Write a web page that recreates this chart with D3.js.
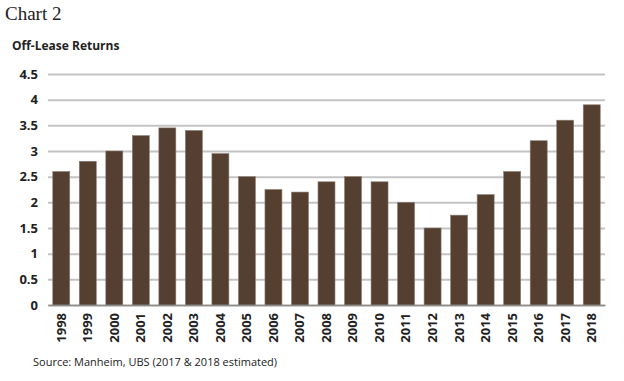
<!DOCTYPE html>
<html>
<head>
<meta charset="utf-8">
<script src="https://cdn.jsdelivr.net/npm/d3@7"></script>
<style>
  body { margin: 0; background: #fff; }
</style>
</head>
<body>
<div id="chart"></div>
<script>
const years = ['1998', '1999', '2000', '2001', '2002', '2003', '2004', '2005', '2006', '2007',
  '2008', '2009', '2010', '2011', '2012', '2013', '2014', '2015', '2016', '2017', '2018'];
const returns = [2.6, 2.8, 3.0, 3.3, 3.45, 3.4, 2.95, 2.5, 2.25, 2.2,
  2.4, 2.5, 2.4, 2.0, 1.5, 1.75, 2.15, 2.6, 3.2, 3.6, 3.9];
const yTicks = [0, 0.5, 1, 1.5, 2, 2.5, 3, 3.5, 4, 4.5];

const data = years.map((y, i) => ({ year: y, value: returns[i] }));

const width = 624;
const height = 381;
const margin = { top: 74, bottom: 76, left: 48, right: 19 };

const svg = d3.select('#chart')
  .append('svg')
  .attr('width', width)
  .attr('height', height)
  .attr('viewBox', [0, 0, width, height]);

const x = d3.scaleBand()
  .domain(years)
  .range([margin.left, width - margin.right])
  .paddingInner(0.36)
  .paddingOuter(0.18);

const y = d3.scaleLinear()
  .domain([0, 4.5])
  .range([height - margin.bottom, margin.top]);

// titles
svg.append('text')
  .attr('x', 5)
  .attr('y', 20)
  .attr('font-family', 'Liberation Serif, serif')
  .attr('font-size', 19)
  .attr('fill', '#222')
  .text('Chart 2');

svg.append('text')
  .attr('x', 12)
  .attr('y', 50)
  .attr('font-family', 'Open Sans, sans-serif')
  .attr('font-weight', 'bold')
  .attr('font-size', 12)
  .attr('fill', '#222')
  .text('Off-Lease Returns');

// gridlines + y labels
const yAxis = svg.append('g')
  .attr('transform', `translate(${margin.left}, 0)`)
  .call(d3.axisLeft(y)
    .tickValues(yTicks)
    .tickFormat(d => d)
    .tickSize(-(width - margin.left - margin.right))
    .tickPadding(10));
yAxis.select('.domain').remove();
yAxis.selectAll('.tick line')
  .attr('stroke', '#c4c4c4')
  .attr('stroke-width', 2);
yAxis.selectAll('.tick text')
  .attr('font-family', 'Open Sans, sans-serif')
  .attr('font-weight', 'bold')
  .attr('font-size', 13)
  .attr('fill', '#222');

// bars
svg.append('g')
  .selectAll('rect')
  .data(data)
  .join('rect')
  .attr('x', d => x(d.year))
  .attr('y', d => y(d.value))
  .attr('width', x.bandwidth())
  .attr('height', d => y(0) - y(d.value))
  .attr('fill', '#543f30')
  .attr('stroke', '#8a7d72')
  .attr('stroke-width', 0.6);

// x axis
const xAxis = svg.append('g')
  .attr('transform', `translate(0, ${y(0)})`)
  .call(d3.axisBottom(x).tickSize(0).tickSizeOuter(0));
xAxis.select('.domain')
  .attr('stroke', '#8c8c8c')
  .attr('stroke-width', 1.5);
xAxis.selectAll('text')
  .attr('font-family', 'Open Sans, sans-serif')
  .attr('font-weight', 'bold')
  .attr('font-size', 13)
  .attr('fill', '#222')
  .attr('transform', 'rotate(-90)')
  .attr('text-anchor', 'end')
  .attr('dx', '-8')
  .attr('dy', '0.34em')
  .attr('y', 0)
  .attr('x', 0);

svg.append('text')
  .attr('x', 33)
  .attr('y', 366)
  .attr('font-family', 'Open Sans, sans-serif')
  .attr('font-size', 11)
  .attr('fill', '#222')
  .text('Source: Manheim, UBS (2017 & 2018 estimated)');
</script>
</body>
</html>
